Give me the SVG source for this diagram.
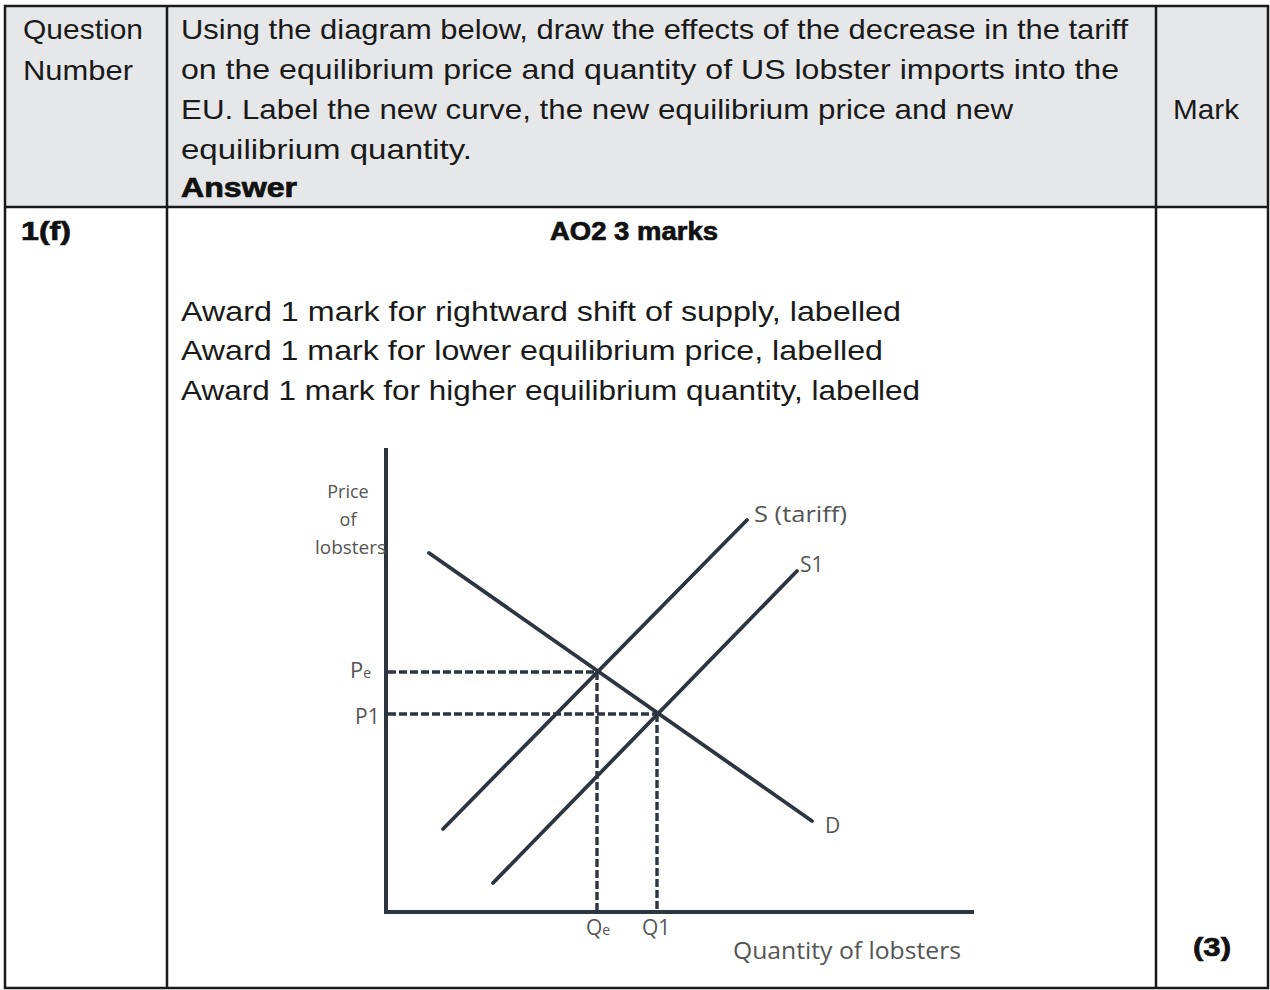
<svg xmlns="http://www.w3.org/2000/svg" width="1270" height="990" viewBox="0 0 1270 990">
<style>
.t{font-family:"Liberation Sans",Arial,sans-serif;font-size:28px;fill:#1a1a1a}
.b{font-family:"Liberation Sans",Arial,sans-serif;font-weight:bold;fill:#111;stroke:#111;stroke-width:0.7}
.g{font-family:"Open Sans","Noto Sans",sans-serif;fill:#555}
.ax{stroke:#2d3540;stroke-width:4;fill:none}
.cv{stroke:#2d3540;stroke-width:3.8;fill:none;stroke-linecap:round}
.ds{stroke:#2d3540;stroke-width:3.4;fill:none;stroke-dasharray:8 3}
.bd{stroke:#1a1a1a;stroke-width:2.5;fill:none}
</style>
<rect width="1270" height="990" fill="#ffffff"/>
<g id="table">
<rect x="5" y="6" width="1263" height="201" fill="#e6e7e8"/>
<rect class="bd" x="5" y="6" width="1263" height="982"/>
<line class="bd" x1="5" y1="207" x2="1268" y2="207"/>
<line class="bd" x1="167" y1="6" x2="167" y2="988"/>
<line class="bd" x1="1156" y1="6" x2="1156" y2="988"/>
</g>
<g id="header">
<text class="t" x="23" y="39" textLength="120" lengthAdjust="spacingAndGlyphs">Question</text>
<text class="t" x="23" y="80" textLength="110" lengthAdjust="spacingAndGlyphs">Number</text>
<text class="t" x="181" y="39" textLength="947" lengthAdjust="spacingAndGlyphs">Using the diagram below, draw the effects of the decrease in the tariff</text>
<text class="t" x="181" y="79" textLength="938" lengthAdjust="spacingAndGlyphs">on the equilibrium price and quantity of US lobster imports into the</text>
<text class="t" x="181" y="119" textLength="832" lengthAdjust="spacingAndGlyphs">EU. Label the new curve, the new equilibrium price and new</text>
<text class="t" x="181" y="159" textLength="291" lengthAdjust="spacingAndGlyphs">equilibrium quantity.</text>
<text class="b" x="181" y="197" font-size="27" textLength="116" lengthAdjust="spacingAndGlyphs">Answer</text>
<text class="t" x="1173" y="119" textLength="66" lengthAdjust="spacingAndGlyphs">Mark</text>
</g>
<g id="body">
<text class="b" x="21" y="240" font-size="26" textLength="50" lengthAdjust="spacingAndGlyphs">1(f)</text>
<text class="b" x="550" y="240" font-size="25" textLength="168" lengthAdjust="spacingAndGlyphs">AO2 3 marks</text>
<text class="t" x="181" y="321" textLength="720" lengthAdjust="spacingAndGlyphs">Award 1 mark for rightward shift of supply, labelled</text>
<text class="t" x="181" y="360" textLength="702" lengthAdjust="spacingAndGlyphs">Award 1 mark for lower equilibrium price, labelled</text>
<text class="t" x="181" y="400" textLength="739" lengthAdjust="spacingAndGlyphs">Award 1 mark for higher equilibrium quantity, labelled</text>
<text class="b" x="1193" y="956" font-size="26" textLength="38" lengthAdjust="spacingAndGlyphs">(3)</text>
</g>
<g id="axes">
<line class="ax" x1="386" y1="448" x2="386" y2="914"/>
<line class="ax" x1="384" y1="912" x2="974" y2="912"/>
<text class="g" x="348" y="498" font-size="18" text-anchor="middle">Price</text>
<text class="g" x="348" y="526" font-size="18" text-anchor="middle">of</text>
<text class="g" x="315" y="554" font-size="18" textLength="71" lengthAdjust="spacingAndGlyphs">lobsters</text>
<text class="g" x="733" y="959" font-size="23" textLength="228" lengthAdjust="spacingAndGlyphs">Quantity of lobsters</text>
</g>
<g id="connectors">
<line class="ds" x1="388" y1="672" x2="597" y2="672"/>
<line class="ds" x1="388" y1="714" x2="657" y2="714"/>
<line class="ds" x1="597" y1="672" x2="597" y2="910"/>
<line class="ds" x1="657" y1="714" x2="657" y2="910"/>
</g>
<g id="curve-D">
<line class="cv" x1="429" y1="553" x2="812" y2="821"/>
<text class="g" x="825" y="833" font-size="21">D</text>
</g>
<g id="curve-S-tariff">
<line class="cv" x1="443" y1="829" x2="747" y2="520"/>
<text class="g" x="754" y="522" font-size="21" textLength="93" lengthAdjust="spacingAndGlyphs">S (tariff)</text>
</g>
<g id="curve-S1">
<line class="cv" x1="493" y1="883" x2="797" y2="571"/>
<text class="g" x="800" y="572" font-size="21">S1</text>
</g>
<g id="labels">
<text class="g" x="350" y="678" font-size="22">P<tspan font-size="14">e</tspan></text>
<text class="g" x="355" y="724" font-size="21">P1</text>
<text class="g" x="586" y="935" font-size="21">Q<tspan font-size="14">e</tspan></text>
<text class="g" x="642" y="935" font-size="21">Q1</text>
</g>
</svg>
